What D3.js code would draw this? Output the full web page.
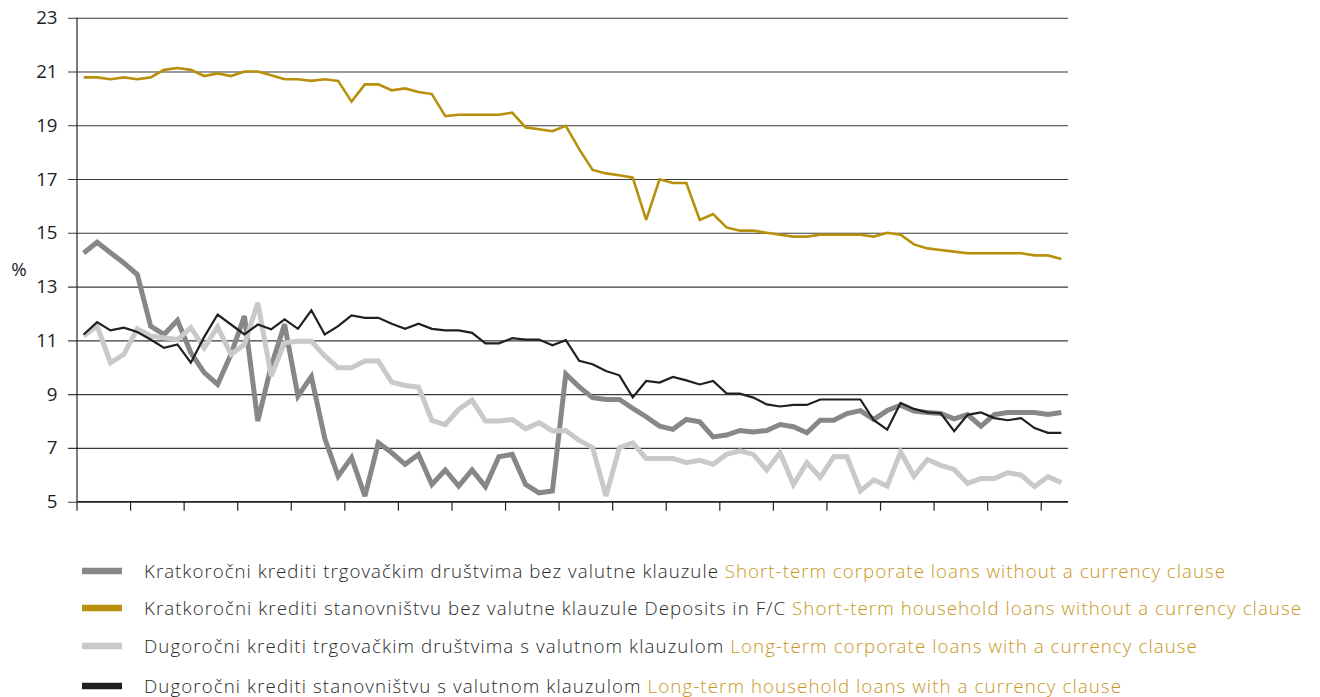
<!DOCTYPE html>
<html>
<head>
<meta charset="utf-8">
<script src="https://cdn.jsdelivr.net/npm/d3@7"></script>
<style>
  html, body { margin: 0; padding: 0; background: #fff; }
  svg { display: block; }
  text { font-family: "Open Sans", "Liberation Sans", sans-serif; }
</style>
</head>
<body>
<svg id="chart" width="1320" height="697"></svg>
<script>
// ---- data ----
const periods = d3.range(74).map(i => "P" + (i + 1));
const yTicks = [5, 7, 9, 11, 13, 15, 17, 19, 21, 23];

const shortCorporate = [
  14.25, 14.65, 14.26, 13.88, 13.45, 11.53, 11.22, 11.75, 10.54, 9.80,
  9.36, 10.48, 11.90, 8.00, 10.04, 11.60, 8.93, 9.65, 7.36, 5.95,
  6.64, 5.21, 7.19, 6.82, 6.39, 6.76, 5.64, 6.18, 5.58, 6.18,
  5.56, 6.67, 6.76, 5.64, 5.33, 5.40, 9.75, 9.27, 8.87, 8.80,
  8.80, 8.47, 8.16, 7.81, 7.69, 8.06, 7.97, 7.41, 7.48, 7.65,
  7.59, 7.65, 7.87, 7.79, 7.56, 8.03, 8.03, 8.28, 8.39, 8.06,
  8.39, 8.59, 8.37, 8.32, 8.28, 8.08, 8.24, 7.81, 8.24, 8.32,
  8.32, 8.32, 8.24, 8.32
];
const shortHousehold = [
  20.78, 20.78, 20.71, 20.78, 20.71, 20.78, 21.06, 21.13, 21.06, 20.83,
  20.93, 20.83, 21.00, 21.00, 20.86, 20.71, 20.71, 20.65, 20.71, 20.65,
  19.88, 20.52, 20.52, 20.30, 20.37, 20.24, 20.16, 19.34, 19.39, 19.39,
  19.39, 19.39, 19.47, 18.92, 18.85, 18.78, 18.98, 18.11, 17.34, 17.21,
  17.14, 17.05, 15.48, 16.99, 16.85, 16.85, 15.48, 15.70, 15.20, 15.08,
  15.08, 15.00, 14.93, 14.86, 14.86, 14.93, 14.93, 14.93, 14.93, 14.86,
  15.00, 14.93, 14.57, 14.42, 14.36, 14.30, 14.24, 14.24, 14.24, 14.24,
  14.24, 14.16, 14.16, 14.03
];
const longCorporate = [
  11.16, 11.53, 10.17, 10.48, 11.43, 11.16, 11.10, 11.03, 11.47, 10.72,
  11.50, 10.48, 10.85, 12.40, 9.67, 10.91, 10.97, 10.97, 10.42, 9.98,
  9.98, 10.23, 10.23, 9.45, 9.32, 9.26, 8.02, 7.87, 8.43, 8.78,
  8.00, 8.00, 8.06, 7.71, 7.94, 7.63, 7.65, 7.28, 7.01, 5.21,
  7.01, 7.19, 6.61, 6.61, 6.61, 6.45, 6.54, 6.39, 6.76, 6.89,
  6.76, 6.18, 6.82, 5.64, 6.45, 5.90, 6.67, 6.67, 5.40, 5.81,
  5.58, 6.85, 5.95, 6.57, 6.35, 6.20, 5.68, 5.86, 5.86, 6.08,
  5.99, 5.56, 5.93, 5.71
];
const longHousehold = [
  11.22, 11.68, 11.37, 11.47, 11.31, 11.03, 10.72, 10.85, 10.17, 11.13,
  11.96, 11.59, 11.22, 11.59, 11.41, 11.78, 11.43, 12.12, 11.22, 11.53,
  11.93, 11.84, 11.84, 11.62, 11.43, 11.62, 11.43, 11.37, 11.37, 11.28,
  10.89, 10.89, 11.08, 11.03, 11.03, 10.82, 11.01, 10.24, 10.11, 9.86,
  9.70, 8.88, 9.49, 9.43, 9.64, 9.51, 9.36, 9.49, 9.03, 9.02,
  8.87, 8.62, 8.54, 8.60, 8.60, 8.80, 8.80, 8.80, 8.80, 8.03,
  7.68, 8.67, 8.45, 8.32, 8.29, 7.62, 8.23, 8.32, 8.11, 8.03,
  8.11, 7.74, 7.56, 7.56
];

const seriesNames = [
  "Kratkoročni krediti trgovačkim društvima bez valutne klauzule",
  "Kratkoročni krediti stanovništvu bez valutne klauzule Deposits in F/C",
  "Dugoročni krediti trgovačkim društvima s valutnom klauzulom",
  "Dugoročni krediti stanovništvu s valutnom klauzulom"
];
const seriesNamesEn = [
  "Short-term corporate loans without a currency clause",
  "Short-term household loans without a currency clause",
  "Long-term corporate loans with a currency clause",
  "Long-term household loans with a currency clause"
];
const seriesColors = ["#87878a", "#b8900c", "#c9c9ca", "#231f20"];
const seriesWidths = [5, 2.6, 5, 2.2];
const seriesValues = [shortCorporate, shortHousehold, longCorporate, longHousehold];
const drawOrder = [0, 2, 3, 1];

// ---- layout ----
const svg = d3.select("#chart");
const plotL = 77, plotR = 1068, plotT = 17.7, plotB = 501.7;
const FONT = "'Open Sans', 'Liberation Sans', sans-serif";

const x = d3.scaleBand().domain(periods).range([plotL, plotR]).padding(0);
const y = d3.scaleLinear().domain([5, 23]).range([plotB, plotT]);
const cx = (p) => x(p) + x.bandwidth() / 2;

// gridlines + y axis
const yAxis = d3.axisLeft(y).tickValues(yTicks).tickSize(-(plotR - plotL)).tickPadding(18).tickFormat(d3.format("d"));
const gy = svg.append("g").attr("transform", `translate(${plotL},0)`).call(yAxis);
gy.select(".domain").remove();
gy.selectAll(".tick line")
  .attr("x1", -9)
  .attr("stroke", "#3a3a3a").attr("stroke-width", 1.1);
gy.selectAll(".tick text")
  .attr("font-size", 18.7).attr("fill", "#1e1e1e")
  .attr("font-family", FONT)
  .attr("x", -19.5);

// left axis line
svg.append("line").attr("x1", plotL).attr("x2", plotL).attr("y1", plotT).attr("y2", plotB)
  .attr("stroke", "#222").attr("stroke-width", 1.2);

// bottom axis with ticks every 4 periods
const xTickVals = periods.filter((d, i) => i % 4 === 0);
const xAxis = d3.axisBottom(x).tickValues(xTickVals).tickSize(9).tickFormat("");
const gx = svg.append("g").attr("transform", `translate(0,${plotB})`).call(xAxis);
gx.select(".domain").attr("d", `M${plotL},0H${plotR}`).attr("stroke", "#222").attr("stroke-width", 1.2);
gx.selectAll(".tick").attr("transform", d => `translate(${x(d)},0)`);
gx.selectAll(".tick line").attr("stroke", "#222").attr("stroke-width", 1.2);

// % label
svg.append("text").attr("x", 19).attr("y", 276).attr("text-anchor", "middle")
  .attr("font-family", FONT).attr("font-size", 18.7).attr("fill", "#1e1e1e").text("%");

// lines
const line = d3.line().x((d, i) => cx(periods[i])).y(d => y(d)).curve(d3.curveLinear);
drawOrder.forEach(k => {
  svg.append("path").datum(seriesValues[k])
    .attr("d", line)
    .attr("fill", "none")
    .attr("stroke", seriesColors[k])
    .attr("stroke-width", seriesWidths[k])
    .attr("stroke-linejoin", "miter")
    .attr("stroke-miterlimit", 3);
});

// legend
const legendY = [571, 608, 646, 686];
const legendEnd = [1226, 1302, 1198, 1122];
const lg = svg.append("g");
seriesNames.forEach((name, k) => {
  lg.append("line").attr("x1", 82).attr("x2", 122).attr("y1", legendY[k]).attr("y2", legendY[k])
    .attr("stroke", seriesColors[k]).attr("stroke-width", 6.5);
  const t = lg.append("text").attr("x", 144).attr("y", legendY[k] + 6.7)
    .attr("font-family", FONT)
    .attr("font-size", 18.7).attr("font-weight", 300).attr("fill", "#2a2a2a");
  t.append("tspan").text(name + " ");
  t.append("tspan").attr("fill", "#c8961a").text(seriesNamesEn[k]);
  // fit natural width to the reference line length via letter-spacing
  const w = t.node().getComputedTextLength();
  const nChars = (name + " " + seriesNamesEn[k]).length;
  const target = legendEnd[k] - 144;
  t.attr("letter-spacing", ((target - w) / nChars).toFixed(3));
});
</script>
</body>
</html>
